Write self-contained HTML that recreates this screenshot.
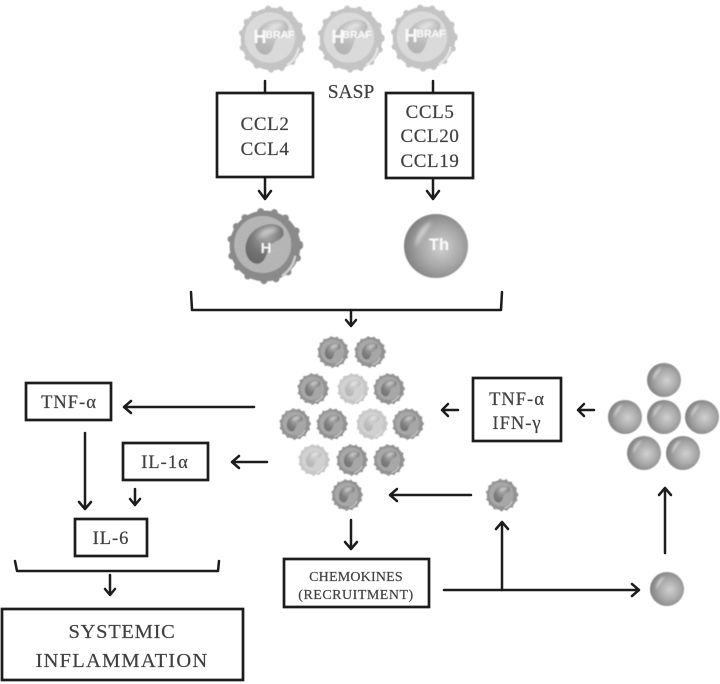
<!DOCTYPE html>
<html><head><meta charset="utf-8"><style>
html,body{margin:0;padding:0;background:#fff}
svg{display:block}
text{font-family:"Liberation Serif","DejaVu Serif",serif;fill:#3f3f3f;stroke:#3f3f3f;stroke-width:.2;text-anchor:middle}
.b{fill:#fff;stroke:#1c1c1c;stroke-width:2.7}
.l{fill:none;stroke:#1c1c1c;stroke-width:2.5;stroke-linecap:round;stroke-linejoin:round}
text.s{font-family:"Liberation Sans",sans-serif;font-weight:bold;fill:#fff;stroke:none;opacity:.92}
</style></head><body>
<svg width="720" height="684" viewBox="0 0 720 684" xmlns="http://www.w3.org/2000/svg">
<defs>
<filter id="soft" x="-10%" y="-10%" width="120%" height="120%"><feGaussianBlur stdDeviation="0.65"/></filter>
<filter id="hl" x="-30%" y="-30%" width="160%" height="160%"><feGaussianBlur stdDeviation="3"/></filter>
<filter id="speck" x="0" y="0" width="100%" height="100%"><feTurbulence type="fractalNoise" baseFrequency="0.9" numOctaves="2" seed="4" result="n"/><feColorMatrix in="n" type="matrix" values="0 0 0 0 .42  0 0 0 0 .42  0 0 0 0 .42  0 0 0 4 -1.5" result="d"/><feComposite in="d" in2="SourceGraphic" operator="in" result="c"/><feMerge><feMergeNode in="SourceGraphic"/><feMergeNode in="c"/></feMerge></filter>
<radialGradient id="sph" cx=".58" cy=".52" r=".6"><stop offset="0" stop-color="#d0d0d0"/><stop offset=".55" stop-color="#a6a6a6"/><stop offset="1" stop-color="#7c7c7c"/></radialGradient>
<radialGradient id="nuc" cx=".55" cy=".3" r=".8"><stop offset="0" stop-color="#a8a8a8"/><stop offset=".6" stop-color="#727272"/><stop offset="1" stop-color="#666"/></radialGradient>
<path id="bean" d="M-25 7C-27-10-15-25 3-28 16-30 26-24 24-15 22-6 9-7 5 2 2 12-1 23-10 23-18 23-24 15-25 7Z" fill="url(#nuc)"/>
<path id="beanhl" d="M-10-9C-6-19 6-25 18-23 10-16 -2-16-10-9Z" fill="#dedede" filter="url(#hl)"/>
<g id="edge">
<circle r="46" fill="#8a8a8a"/>
<circle r="45" fill="none" stroke="#8a8a8a" stroke-width="9" stroke-linecap="round" stroke-dasharray="0 16 0 22 0 18"/>
</g>
<g id="cell">
<use href="#edge"/>
<circle cx="-2" cy="-2" r="37" fill="#a0a0a0"/>
<path d="M31 20Q24 34 9 39" fill="none" stroke="#c4c4c4" stroke-width="4" stroke-linecap="round"/>
<use href="#bean"/><use href="#beanhl"/>
</g>
<g id="cellbig">
<use href="#edge"/>
<circle cx="-3" cy="-2" r="37" fill="#bcbcbc" filter="url(#speck)"/>
<use href="#bean"/><use href="#beanhl"/>
<path d="M39 14Q36 29 23 38" fill="none" stroke="#cfcfcf" stroke-width="3" stroke-linecap="round"/>
</g>
<g id="sp">
<circle r="50" fill="url(#sph)"/>
<path d="M-32 2C-32-20-20-33-6-38-15-24-22-14-32 2Z" fill="#e0e0e0" opacity=".8" filter="url(#hl)"/>
</g>
</defs>

<g filter="url(#soft)">
<g opacity=".5">
<use href="#cellbig" transform="translate(272,39) scale(.68)"/>
<use href="#cellbig" transform="translate(351,39) scale(.68)"/>
<use href="#cellbig" transform="translate(424,38) scale(.68)"/>
</g>
<text class="s" x="260" y="43" font-size="18">H</text><text class="s" x="280" y="38" font-size="10.5">BRAF</text>
<text class="s" x="338" y="43" font-size="18">H</text><text class="s" x="357" y="38" font-size="10.5">BRAF</text>
<text class="s" x="411" y="42" font-size="18">H</text><text class="s" x="431" y="37" font-size="10.5">BRAF</text>

<use href="#cellbig" transform="translate(265,246) scale(.77)"/>
<text class="s" x="266" y="253" font-size="15">H</text>
<use href="#sp" transform="translate(436,246) scale(.64)"/>
<text class="s" x="439" y="250" font-size="16.5">Th</text>

<g opacity=".92">
<use href="#cell" transform="translate(333,352) scale(.32)"/>
<use href="#cell" transform="translate(370,352) scale(.32)"/>
<use href="#cell" transform="translate(313,389) scale(.32)"/>
<use href="#cell" transform="translate(389,389) scale(.32)"/>
<use href="#cell" transform="translate(295,424) scale(.32)"/>
<use href="#cell" transform="translate(332,424) scale(.32)"/>
<use href="#cell" transform="translate(408,424) scale(.32)"/>
<use href="#cell" transform="translate(352,460) scale(.32)"/>
<use href="#cell" transform="translate(389,460) scale(.32)"/>
<use href="#cell" transform="translate(347,495) scale(.32)"/>
<use href="#cell" transform="translate(502,495) scale(.33)"/>
</g>
<g opacity=".48">
<use href="#cell" transform="translate(353,389) scale(.32)"/>
<use href="#cell" transform="translate(372,424) scale(.32)"/>
<use href="#cell" transform="translate(314,460) scale(.32)"/>
</g>

<use href="#sp" transform="translate(664,380) scale(.34)"/>
<use href="#sp" transform="translate(625,417) scale(.34)"/>
<use href="#sp" transform="translate(664,417) scale(.34)"/>
<use href="#sp" transform="translate(702,417) scale(.34)"/>
<use href="#sp" transform="translate(644,453) scale(.34)"/>
<use href="#sp" transform="translate(683,453) scale(.34)"/>
<use href="#sp" transform="translate(667,589) scale(.34)"/>
</g>

<rect class="b" x="217" y="93" width="96" height="84"/>
<rect class="b" x="386" y="93" width="87" height="85"/>
<rect class="b" x="473" y="378" width="88" height="63"/>
<rect class="b" x="26" y="383" width="85" height="37"/>
<rect class="b" x="123" y="443" width="85" height="37"/>
<rect class="b" x="75" y="519" width="72" height="37"/>
<rect class="b" x="284" y="559" width="145" height="48"/>
<rect class="b" x="2" y="609" width="241" height="71"/>

<g class="l">
<path d="M265 81V93M433 81V93"/>
<path d="M265 178V199M259 191 265 199 271 191"/>
<path d="M433 179V199M427 191 433 199 439 191"/>
<path d="M191 292 192 310H501L502 292"/>
<path d="M351 310V326M346 320 351 326 356 320"/>
<path d="M254 407H124M131 401 124 407 131 413"/>
<path d="M267 462H232M239 456 232 462 239 468"/>
<path d="M458 410H442M448 404 442 410 448 416"/>
<path d="M594 410H578M584 404 578 410 584 416"/>
<path d="M85 433V509M79 502 85 509 91 502"/>
<path d="M135 489V505M130 499 135 505 140 499"/>
<path d="M15 561 17 571H218L219 561"/>
<path d="M110 575V595M105 589 110 595 115 589"/>
<path d="M351 520V549M345 542 351 549 357 542"/>
<path d="M471 495H390M397 489 390 495 397 501"/>
<path d="M444 590H639M632 584 639 590 632 596"/>
<path d="M502 590V522M496 529 502 522 508 529"/>
<path d="M665 553V488M659 495 665 488 671 495"/>
</g>

<text x="351" y="98" font-size="19.5">SASP</text>
<text x="265" y="130" font-size="19" letter-spacing=".6">CCL2</text>
<text x="265" y="155" font-size="19" letter-spacing=".6">CCL4</text>
<text x="430" y="118" font-size="19" letter-spacing=".6">CCL5</text>
<text x="430" y="142" font-size="19" letter-spacing=".6">CCL20</text>
<text x="430" y="167" font-size="19" letter-spacing=".6">CCL19</text>
<text x="517" y="405" font-size="18.5" letter-spacing="1">TNF-α</text>
<text x="517" y="429" font-size="18.5" letter-spacing="1">IFN-γ</text>
<text x="69" y="408" font-size="18.5" letter-spacing="1">TNF-α</text>
<text x="165" y="468" font-size="18.5" letter-spacing="1">IL-1α</text>
<text x="111" y="544" font-size="18.5" letter-spacing="1">IL-6</text>
<text x="356" y="581" font-size="14" letter-spacing=".2">CHEMOKINES</text>
<text x="356" y="599" font-size="14" letter-spacing=".5">(RECRUITMENT)</text>
<text x="122" y="638" font-size="20.5" letter-spacing=".7">SYSTEMIC</text>
<text x="122" y="667" font-size="20.5" letter-spacing="1.2">INFLAMMATION</text>
</svg>
</body></html>
